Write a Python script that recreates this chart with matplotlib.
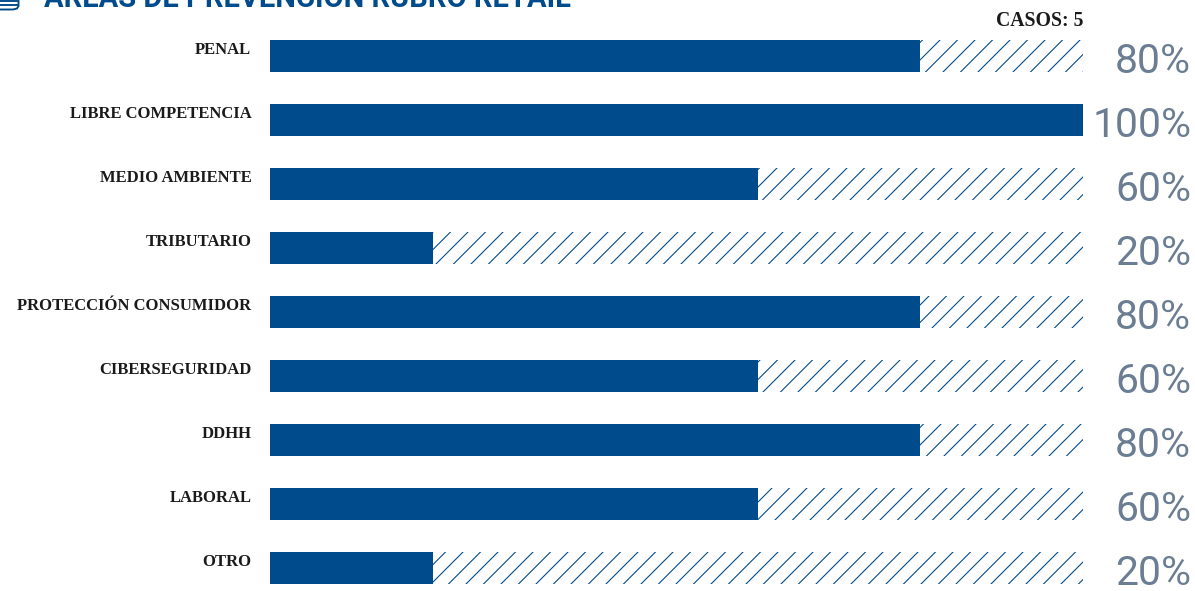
import matplotlib
matplotlib.use("Agg")
import matplotlib.pyplot as plt
from matplotlib.lines import Line2D

categories = ['PENAL', 'LIBRE COMPETENCIA', 'MEDIO AMBIENTE', 'TRIBUTARIO',
              'PROTECCIÓN CONSUMIDOR', 'CIBERSEGURIDAD', 'DDHH', 'LABORAL', 'OTRO']
values = [80, 100, 60, 20, 80, 60, 80, 60, 20]

BLUE = '#004b8b'
GREY = '#6b7d92'
W, H = 1195, 591
DPI = 105

plt.rcParams['hatch.linewidth'] = 0.75
plt.rcParams['hatch.color'] = BLUE

fig = plt.figure(figsize=(W / DPI, H / DPI), dpi=DPI)
ax = fig.add_axes([270 / W, 0, 813 / W, 567 / H])
ax.set_xlim(0, 100)
ax.set_ylim(8.36, -0.5)
ax.axis('off')

for i, (name, val) in enumerate(zip(categories, values)):
    ax.barh(i, 100 - val, left=val, height=0.51, color='white', linewidth=0, hatch='//')
    ax.barh(i, val, height=0.51, color=BLUE)
    ax.text(-2.3, i - 0.1, name, ha='right', va='center', fontsize=11.4, fontweight='bold',
            family='Liberation Serif', color='#1a1a1a', clip_on=False)
    ax.text(113.3, i + 0.09, f'{val}%', ha='right', va='center', fontsize=28,
            family='Roboto', color=GREY, clip_on=False)

fig.text(1083 / W, 1 - 26 / H, 'CASOS: 5', ha='right', va='baseline', fontsize=13.5,
         fontweight='bold', family='Liberation Serif', color='#1a1a1a')
# el titulo queda cortado arriba, igual que en la imagen original
fig.text(44 / W, 1 - 7 / H, 'ÁREAS DE PREVENCIÓN RUBRO RETAIL', ha='left', va='baseline',
         fontsize=20, fontweight='bold', family='Roboto', color=BLUE)

# icono cortado a la izquierda del titulo
for xs, ys in [([0, 17], [0.5, 0.5]),
               ([0, 17], [4.5, 4.5]),
               ([0, 13, 17, 18.5, 18.5], [9.5, 9.5, 8.5, 6, 1])]:
    fig.add_artist(Line2D([x / W for x in xs], [1 - y / H for y in ys], color=BLUE, lw=1.3))

fig.savefig('out.png', dpi=DPI)
